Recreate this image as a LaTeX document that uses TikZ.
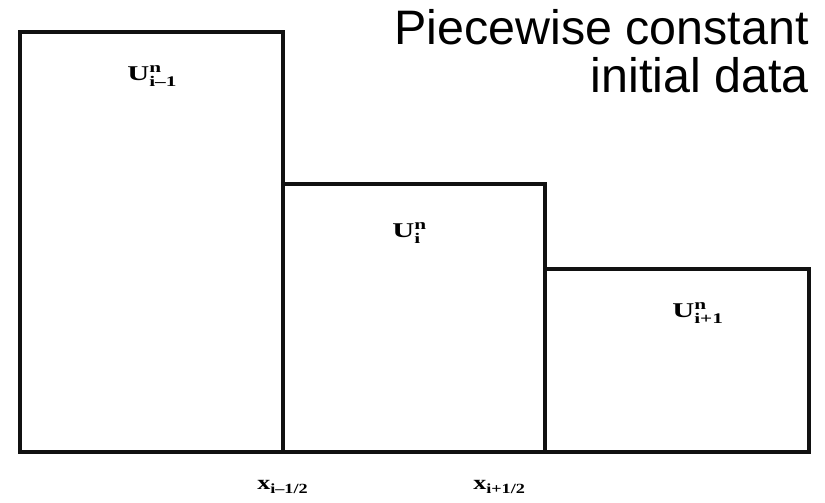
\documentclass[tikz,border=0pt]{standalone}
\usepackage{amsmath}
\usepackage{fontspec}
\setmainfont{Liberation Serif}
\newfontfamily\titlefont{Liberation Sans}
\usepackage{tikz}
\usetikzlibrary{positioning}
\definecolor{cellline}{HTML}{111111}

\begin{document}
\begin{tikzpicture}[x=1pt,y=1pt,
    cell/.style={line width=3.2pt,cellline,line join=miter},
    celllabel/.style={anchor=base west,inner sep=0pt,xscale=1.45,font=\fontsize{21}{23}\selectfont\bfseries},
    edgelabel/.style={anchor=base west,inner sep=0pt,xscale=1.3,font=\fontsize{20}{22}\selectfont\bfseries}]
    \useasboundingbox (0,0) rectangle (825,503);
    % cells of the piecewise constant data
    \draw[cell] (20,51) rectangle (283,471);
    \draw[cell] (283,51) rectangle (545,319);
    \draw[cell] (545,51) rectangle (809,234);
    % cell averages
    \node[celllabel] (uleft) at (127,422) {$\text{U}^{\text{n}}_{\text{i–1}}$};
    \node[celllabel] (umid) at (392,265) {$\text{U}^{\text{n}}_{\text{i}}$};
    \node[celllabel] (uright) at (672,185) {$\text{U}^{\text{n}}_{\text{i+1}}$};
    % interfaces
    \node[edgelabel] (xleft) at (257,13) {$\text{x}_{\text{i–1/2}}$};
    \node[edgelabel] (xright) at (473,13) {$\text{x}_{\text{i+1/2}}$};
    \node[anchor=base east,inner sep=0pt,align=right,
      font=\titlefont\fontsize{48.4}{48}\selectfont] (title) at (809,410) {Piecewise constant\\initial data};
\end{tikzpicture}
\end{document}
